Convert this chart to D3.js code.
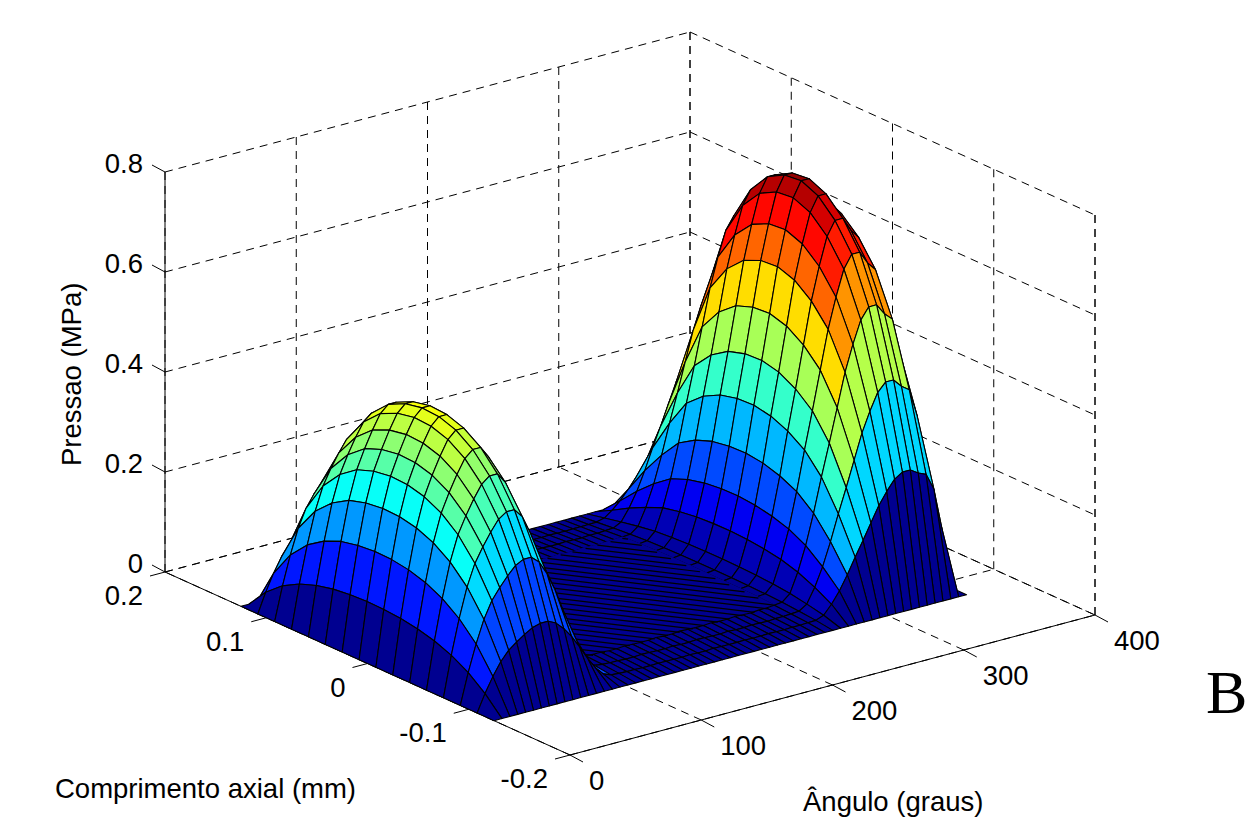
<!DOCTYPE html>
<html>
<head>
<meta charset="utf-8">
<script src="https://cdn.jsdelivr.net/npm/d3@7"></script>
<style>
  body { margin: 0; background: #fff; }
  text { font-family: "Liberation Sans", Arial, sans-serif; fill: #000; }
</style>
</head>
<body>
<svg id="chart" width="1253" height="819"></svg>
<script>
// Axis ticks
const angleTicks = [0, 100, 200, 300, 400];
const axialTicks = [-0.2, -0.1, 0, 0.1, 0.2];
const pressureTicks = [0, 0.2, 0.4, 0.6, 0.8];

// Surface grid
const angles = [0, 6, 12, 18, 24, 30, 36, 42, 48, 54, 60, 66, 72, 78, 84, 90, 96, 102, 108, 114,
    120, 126, 132, 138, 144, 150, 156, 162, 168, 174, 180, 186, 192, 198, 204, 210, 216, 222, 228, 234,
    240, 246, 252, 258, 264, 270, 276, 282, 288, 294, 300, 306, 312, 318, 324, 330, 336, 342, 348, 354, 360];
const axial = [-0.125, -0.1083, -0.0917, -0.075, -0.0583, -0.0417, -0.025, -0.0083,
    0.0083, 0.025, 0.0417, 0.0583, 0.075, 0.0917, 0.1083, 0.125];

// Pressure along the bearing centre line (MPa), one value per angle
const centrePressure = [0, 0.112, 0.208, 0.29, 0.35, 0.39, 0.425, 0.455, 0.47, 0.47, 0.445, 0.395, 0.33, 0.25, 0.165, 0.09, 0.036, 0.016, 0.012, 0.01,
    0.01, 0.008, 0.008, 0.01, 0.009, 0.008, 0.008, 0.01, 0.008, 0.008, 0.01, 0.009, 0.008, 0.008, 0.01, 0.008, 0.008, 0.01, 0.009, 0.008,
    0.01, 0.01, 0.012, 0.014, 0.032, 0.084, 0.15, 0.232, 0.324, 0.41, 0.5, 0.59, 0.66, 0.72, 0.75, 0.75, 0.72, 0.7, 0.6, 0.36, 0];

// Fraction of the centre line pressure across the axial length, for each lobe
const axialShapeFirst = [0, 0.31, 0.55, 0.72, 0.84, 0.92, 0.97, 0.995, 1, 0.985, 0.95, 0.88, 0.77, 0.6, 0.35, 0];
const axialShapeSecond = [0, 0.34, 0.56, 0.74, 0.86, 0.93, 0.975, 0.995, 0.99, 0.965, 0.91, 0.82, 0.65, 0.45, 0.22, 0];

// Peak pressure of each lobe, with the angle where it sits
const lobeAngles = [54, 330];
const lobePeaks = [0.47, 0.75];
// Angles where the flat floor between the lobes starts and stops
const floorStart = 102, floorEnd = 258;

// Dense mesh lines on the flat part of the floor: start angle of each line
const floorLineStarts = [-4, 5, 15, 24, 34, 43, 53, 62, 72, 81, 91, 100, 110, 119, 129, 138, 148, 157, 167, 176,
    186, 195, 205, 214, 224, 233, 243, 252];

const svg = d3.select("#chart");

// Projection of the box: each axis adds its own screen offset
const angleX = d3.scaleLinear().domain([0, 400]).range([0, 525]);
const angleY = d3.scaleLinear().domain([0, 400]).range([0, -140]);
const axialX = d3.scaleLinear().domain([-0.2, 0.2]).range([0, -405]);
const axialY = d3.scaleLinear().domain([-0.2, 0.2]).range([0, -183]);
const pressureY = d3.scaleLinear().domain([0, 0.8]).range([0, -400]);
const originX = 570, originY = 755;

function project(a, y, p) {
    return [originX + angleX(a) + axialX(y), originY + angleY(a) + axialY(y) + pressureY(p)];
}

const line = d3.line();

function draw3dLine(g, from, to, dashed) {
    g.append("path")
        .attr("d", line([project(...from), project(...to)]))
        .attr("fill", "none")
        .attr("stroke", "#000")
        .attr("stroke-width", 1)
        .attr("stroke-dasharray", dashed ? "8 6" : null);
}

// Dashed grid on the floor and the two back walls
const grid = svg.append("g");
angleTicks.forEach(a => {
    draw3dLine(grid, [a, -0.2, 0], [a, 0.2, 0], true);
    draw3dLine(grid, [a, 0.2, 0], [a, 0.2, 0.8], true);
});
axialTicks.forEach(y => {
    draw3dLine(grid, [0, y, 0], [400, y, 0], true);
    draw3dLine(grid, [400, y, 0], [400, y, 0.8], true);
});
pressureTicks.forEach(p => {
    draw3dLine(grid, [0, 0.2, p], [400, 0.2, p], true);
    draw3dLine(grid, [400, 0.2, p], [400, -0.2, p], true);
});

// Solid axes and ticks
const axes = svg.append("g");
draw3dLine(axes, [0, 0.2, 0], [0, 0.2, 0.8], false);
draw3dLine(axes, [0, -0.2, 0], [0, 0.2, 0], false);
draw3dLine(axes, [0, -0.2, 0], [400, -0.2, 0], false);
draw3dLine(axes, [400, -0.2, 0], [400, -0.2, 0.8], true);

function tick(start, dx, dy) {
    axes.append("line")
        .attr("x1", start[0]).attr("y1", start[1])
        .attr("x2", start[0] + dx).attr("y2", start[1] + dy)
        .attr("stroke", "#000").attr("stroke-width", 1);
}

function label(x, y, value, anchor) {
    axes.append("text")
        .attr("x", x).attr("y", y)
        .attr("text-anchor", anchor)
        .style("font-size", "27.5px")
        .text(String(value));
}

pressureTicks.forEach(p => {
    const c = project(0, 0.2, p);
    tick(c, -13, -7);
    label(c[0] - 22, c[1] + 1, p, "end");
});
axialTicks.forEach(y => {
    const c = project(0, y, 0);
    tick(c, -15, 4);
    label(c[0] - 22, c[1] + 33, y, "end");
});
angleTicks.forEach(a => {
    const c = project(a, -0.2, 0);
    tick(c, 13, 7);
    label(c[0] + 19, c[1] + 35, a, "start");
});

// Jet colormap
const jet = d3.scaleLinear()
    .domain([0, 0.125, 0.375, 0.625, 0.875, 1])
    .range(["#000090", "#0000ff", "#00ffff", "#ffff00", "#ff0000", "#800000"])
    .clamp(true);
const colorScale = d3.scaleLinear().domain([0, 0.76]).range([0, 1]);

function shapeAt(i) {
    return angles[i] < 180 ? axialShapeFirst : axialShapeSecond;
}

function pressureAt(i, j) {
    return centrePressure[i] * shapeAt(i)[j];
}

// Bands follow the lower edge of the cell, so they run in rings around each lobe
function cellColorValue(i, j) {
    if (angles[i] >= floorStart && angles[i] < floorEnd) return 0;
    const lobe = angles[i] < 180 ? 0 : 1;
    const shape = shapeAt(i);
    const nearEdge = lobePeaks[lobe] * shape[j];
    if (angles[i] >= lobeAngles[lobe]) return j < 8 ? nearEdge : lobePeaks[lobe] * shape[j + 1];
    return j < 8 ? Math.min(centrePressure[i], nearEdge) : centrePressure[i];
}

function isCentralFloor(i, j) {
    return angles[i] >= floorStart && angles[i] < floorEnd - 6 && j >= 3 && j < 12;
}

function cellPath(i, j) {
    return line([
        project(angles[i], axial[j], pressureAt(i, j)),
        project(angles[i + 1], axial[j], pressureAt(i + 1, j)),
        project(angles[i + 1], axial[j + 1], pressureAt(i + 1, j + 1)),
        project(angles[i], axial[j + 1], pressureAt(i, j + 1))
    ]) + "Z";
}

// Back to front: far angle and far axial side first
const surface = svg.append("g");
function drawCells(cells) {
    surface.append("g").selectAll("path")
        .data(cells)
        .join("path")
        .attr("d", d => cellPath(d.i, d.j))
        .attr("fill", d => jet(colorScale(cellColorValue(d.i, d.j))))
        .attr("stroke", d => isCentralFloor(d.i, d.j) ? jet(colorScale(cellColorValue(d.i, d.j))) : "#000")
        .attr("stroke-width", 1.1)
        .attr("stroke-linejoin", "round");
}

const allCells = [];
for (let i = angles.length - 2; i >= 0; i--) {
    for (let j = axial.length - 2; j >= 0; j--) {
        allCells.push({ i: i, j: j });
    }
}

drawCells(allCells.filter(d => angles[d.i] >= floorStart));

// Dense lines across the middle of the flat floor
const floorFrom = 0.075, floorTo = -0.075, floorRun = 99, floorMax = floorEnd - 4;
surface.append("g").selectAll("path")
    .data(floorLineStarts)
    .join("path")
    .attr("d", s => {
        const t0 = Math.max(0, (floorStart - s) / floorRun);
        const t1 = Math.min(1, (floorMax - s) / floorRun);
        if (t1 <= t0) return null;
        const pt = t => project(s + floorRun * t, floorFrom + (floorTo - floorFrom) * t, 0.005);
        return line([pt(t0), pt(t1)]);
    })
    .attr("fill", "none")
    .attr("stroke", "#000")
    .attr("stroke-width", 1.25);

drawCells(allCells.filter(d => angles[d.i] < floorStart));

// Titles
svg.append("text")
    .attr("x", 55).attr("y", 798)
    .style("font-size", "27.5px")
    .text("Comprimento axial (mm)");
svg.append("text")
    .attr("x", 803).attr("y", 811)
    .style("font-size", "27.5px")
    .text("Ângulo (graus)");
svg.append("text")
    .attr("transform", "translate(81,466) rotate(-90)")
    .style("font-size", "27.5px")
    .text("Pressao (MPa)");
svg.append("text")
    .attr("x", 1206).attr("y", 713)
    .style("font-family", "'Liberation Serif', serif")
    .style("font-size", "62px")
    .text("B");
</script>
</body>
</html>
